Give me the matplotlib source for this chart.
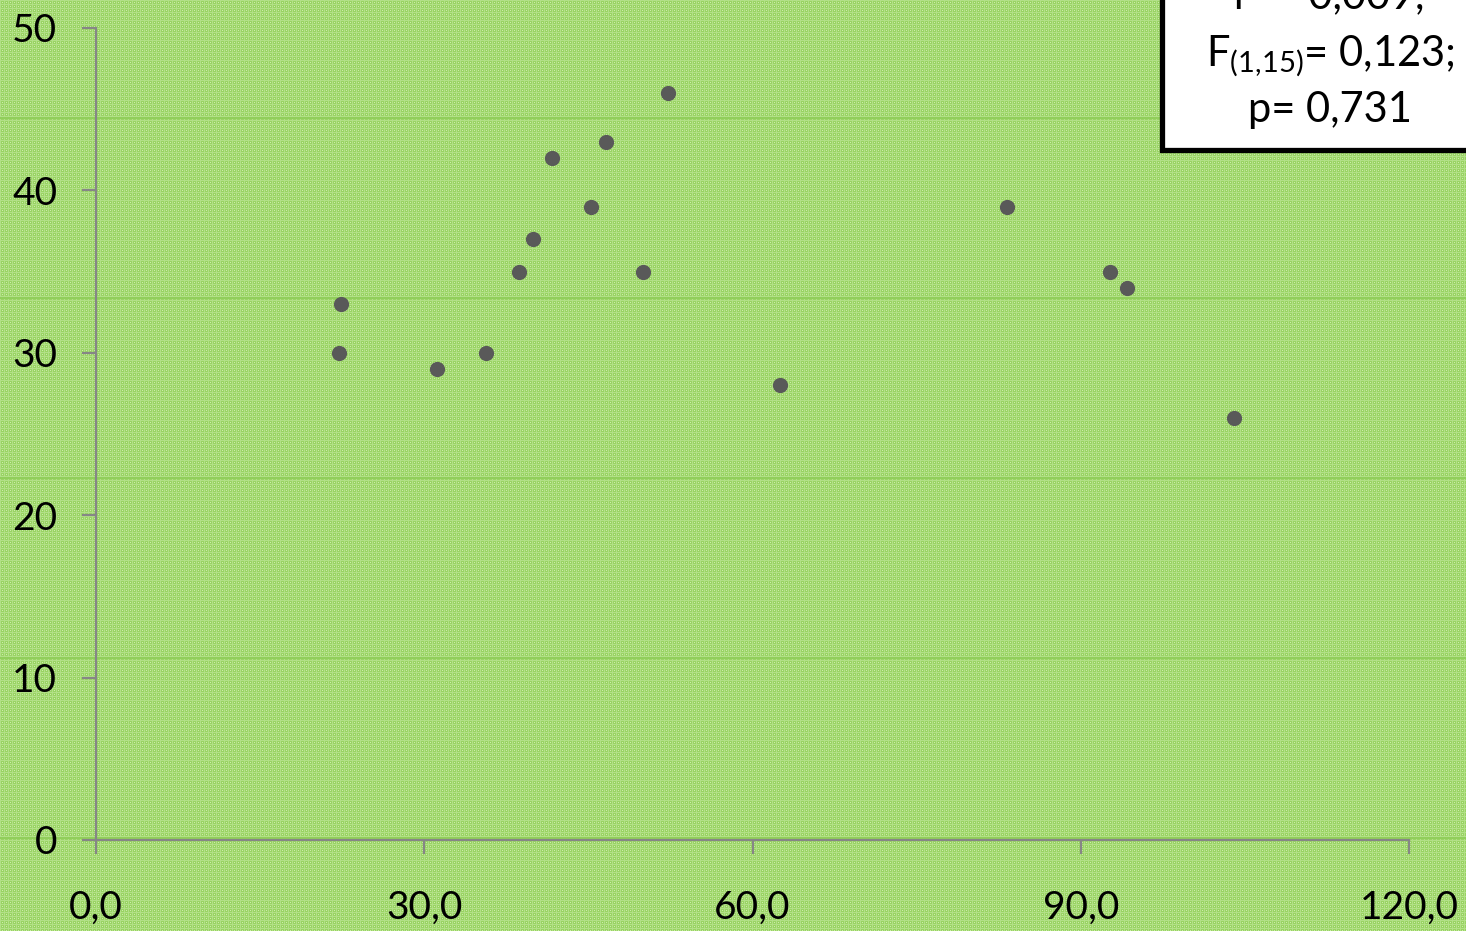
import numpy as np
import matplotlib.pyplot as plt
from matplotlib.patches import Rectangle

# Data points
x = [22.4, 22.2, 31.2, 35.6, 38.7, 39.9, 41.7, 45.2, 46.6, 50.0,
     52.3, 62.5, 83.3, 92.7, 94.2, 104.0]
y = [33, 30, 29, 30, 35, 37, 42, 39, 43, 35,
     46, 28, 39, 35, 34, 26]

x_ticks = [0, 30, 60, 90, 120]
x_labels = ['0,0', '30,0', '60,0', '90,0', '120,0']
y_ticks = [0, 10, 20, 30, 40, 50]

stats_lines = ['r² = 0,009;', 'F$_{(1{,}15)}$= 0,123;', 'p= 0,731']

plt.rcParams['font.family'] = ['Lato', 'DejaVu Sans']
plt.rcParams['mathtext.fontset'] = 'custom'
plt.rcParams['mathtext.rm'] = 'Lato'
plt.rcParams['mathtext.it'] = 'Lato'

W, H = 1466, 931
fig = plt.figure(figsize=(W / 100, H / 100), dpi=100)

# textured green background
tile = np.zeros((4, 4, 3))
tile[:, :] = [0.60, 0.83, 0.39]
tile[0, :] = [0.70, 0.88, 0.53]
tile[:, 0] = [0.70, 0.88, 0.53]
tile[2, 2] = [0.80, 0.93, 0.67]
bg = np.tile(tile, (H // 4 + 1, W // 4 + 1, 1))[:H, :W]
for r in [118, 298, 478, 658, 838]:
    bg[r - 1:r + 1, :] = [0.57, 0.81, 0.36]
fig.figimage(bg, 0, 0, zorder=-1)

ax = fig.add_axes([96 / W, 1 - 840 / H, (1409 - 96) / W, (840 - 28) / H])
ax.patch.set_visible(False)

ax.scatter(x, y, s=120, color='#595959', zorder=3, linewidths=0)

ax.set_xlim(0, 120)
ax.set_ylim(0, 50)
ax.set_xticks(x_ticks)
ax.set_xticklabels(x_labels)
ax.set_yticks(y_ticks)

for side in ['top', 'right']:
    ax.spines[side].set_visible(False)
for side in ['left', 'bottom']:
    ax.spines[side].set_color('#868686')
    ax.spines[side].set_linewidth(1.6)
ax.tick_params(axis='both', direction='out', length=10, width=1.6,
               color='#868686', labelsize=28, labelcolor='black')
ax.tick_params(axis='x', pad=26)
ax.tick_params(axis='y', pad=18)

# statistics box, running off the top-right corner
box = Rectangle((1162 / W, 1 - 150 / H), 0.3, 0.3, transform=fig.transFigure,
                facecolor='white', edgecolor='black', linewidth=3.8,
                clip_on=False, zorder=5)
fig.patches.append(box)
for txt, base in zip(stats_lines, [8, 66, 122]):
    fig.text(1330 / W, 1 - base / H, txt, ha='center', va='baseline',
             fontsize=30, zorder=6)

fig.savefig('out.png', dpi=100)
